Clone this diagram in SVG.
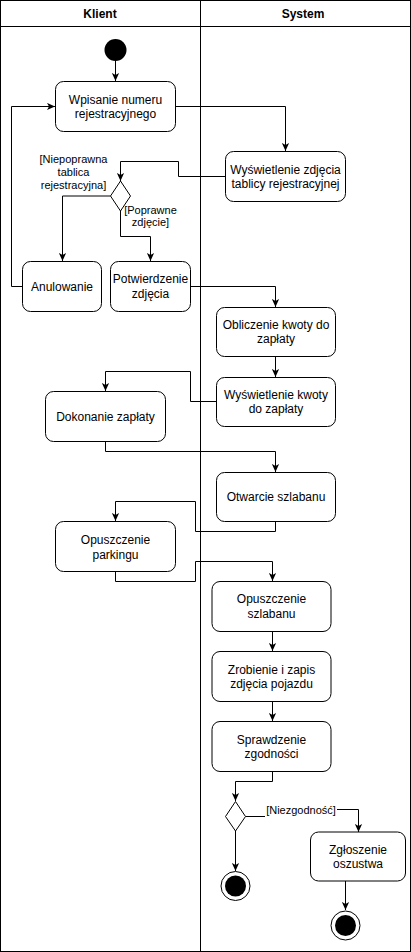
<svg xmlns="http://www.w3.org/2000/svg" width="411" height="952" viewBox="0 0 411 952">
<defs>
<style>
.lane{fill:none;stroke:#000;stroke-width:1}
.hdr{font-family:"Liberation Sans",Arial,sans-serif;font-size:12px;font-weight:bold;fill:#000;text-anchor:middle}
.box{fill:#fff;stroke:#000;stroke-width:1}
.t{font-family:"Liberation Sans",Arial,sans-serif;font-size:12px;fill:#000;text-anchor:middle}
.lbl{font-family:"Liberation Sans",Arial,sans-serif;font-size:11px;fill:#000;text-anchor:middle}
.e{fill:none;stroke:#000;stroke-width:1;marker-end:url(#arr)}
.dia{fill:#fff;stroke:#000;stroke-width:1}
</style>
<marker id="arr" viewBox="0 0 10 10" refX="10" refY="5" markerWidth="8" markerHeight="8" markerUnits="userSpaceOnUse" orient="auto">
<path d="M0,0.5 L10,5 L0,9.5 L2.5,5 z" fill="#000"/>
</marker>
</defs>
<rect width="411" height="952" fill="#fff"/>
<g id="pool">
<rect class="lane" x="0.5" y="0.5" width="410" height="951"/>
<line class="lane" x1="200.5" y1="0" x2="200.5" y2="952"/>
<line class="lane" x1="0" y1="26.5" x2="411" y2="26.5"/>
<text class="hdr" x="100" y="18">Klient</text>
<text class="hdr" x="303" y="18">System</text>
</g>
<g id="connectors">
<path class="e" d="M115.5,61 V81"/>
<path class="e" d="M175,106.5 H285.5 V151"/>
<path class="e" d="M225,176.5 H178.5 V161.5 H120.5 V181"/>
<path class="e" d="M110.5,196 H62.5 V261"/>
<path class="e" d="M120.5,211 V236.5 H150.5 V261"/>
<path class="e" d="M22,286.5 H11.5 V106.5 H55"/>
<path class="e" d="M190,286.5 H275.5 V307"/>
<path class="e" d="M275.5,356 V377"/>
<path class="e" d="M216,401.5 H190.5 V371.5 H105.5 V391"/>
<path class="e" d="M105.5,441 V451.5 H275.5 V472"/>
<path class="e" d="M275.5,521 V531.5 H195.5 V501.5 H115.5 V521"/>
<path class="e" d="M115.5,571 V581.5 H195.5 V561.5 H272.5 V581"/>
<path class="e" d="M272.5,631 V651"/>
<path class="e" d="M272.5,701 V721"/>
<path class="e" d="M272.5,771 V781.5 H235.5 V801"/>
<path class="e" d="M235.5,831 V871"/>
<path class="e" d="M245.5,816.5 H300.5 V809.5 H358.5 V832"/>
<path class="e" d="M345.5,881 V910"/>
<g id="labels">
<rect x="40" y="154" width="68" height="39" fill="#fff"/>
<text class="lbl" x="73.5" y="163">[Niepoprawna</text>
<text class="lbl" x="73.5" y="176">tablica</text>
<text class="lbl" x="73.5" y="189">rejestracyjna]</text>
<rect x="124" y="204" width="53" height="25" fill="#fff"/>
<text class="lbl" x="150.5" y="214">[Poprawne</text>
<text class="lbl" x="150.5" y="226">zdjęcie]</text>
<rect x="265" y="803" width="72" height="15" fill="#fff"/>
<text class="lbl" x="301" y="813.5">[Niezgodność]</text>
</g>
</g>
<g id="start"><circle cx="115.5" cy="50" r="11" fill="#000"/></g>
<g id="n1"><rect class="box" x="55.5" y="81.5" width="120" height="50" rx="8"/>
<text class="t" x="115.5" y="103.5">Wpisanie numeru</text><text class="t" x="115.5" y="118">rejestracyjnego</text></g>
<g id="n2"><rect class="box" x="225.5" y="151.5" width="120" height="50" rx="8"/>
<text class="t" x="285.5" y="173.5">Wyświetlenie zdjęcia</text><text class="t" x="285.5" y="188">tablicy rejestracyjnej</text></g>
<g id="d1"><path class="dia" d="M120.5,181 L130.5,196 L120.5,211 L110.5,196 Z"/></g>
<g id="n3"><rect class="box" x="22.5" y="261.5" width="79" height="50" rx="8"/>
<text class="t" x="62" y="290.5">Anulowanie</text></g>
<g id="n4"><rect class="box" x="110.5" y="261.5" width="80" height="50" rx="8"/>
<text class="t" x="150.5" y="282.5">Potwierdzenie</text><text class="t" x="150.5" y="297.5">zdjęcia</text></g>
<g id="n5"><rect class="box" x="216.5" y="307.5" width="119" height="49" rx="8"/>
<text class="t" x="276" y="328.5">Obliczenie kwoty do</text><text class="t" x="276" y="343">zapłaty</text></g>
<g id="n6"><rect class="box" x="216.5" y="377.5" width="119" height="49" rx="8"/>
<text class="t" x="276" y="398.5">Wyświetlenie kwoty</text><text class="t" x="276" y="413">do zapłaty</text></g>
<g id="n7"><rect class="box" x="45.5" y="391.5" width="120" height="50" rx="8"/>
<text class="t" x="105.5" y="421">Dokonanie zapłaty</text></g>
<g id="n8"><rect class="box" x="216.5" y="472.5" width="119" height="49" rx="8"/>
<text class="t" x="276" y="501">Otwarcie szlabanu</text></g>
<g id="n9"><rect class="box" x="55.5" y="521.5" width="120" height="50" rx="8"/>
<text class="t" x="115.5" y="544">Opuszczenie</text><text class="t" x="115.5" y="558.5">parkingu</text></g>
<g id="n10"><rect class="box" x="212" y="581.5" width="119" height="50" rx="8"/>
<text class="t" x="271.5" y="603">Opuszczenie</text><text class="t" x="271.5" y="618">szlabanu</text></g>
<g id="n11"><rect class="box" x="212" y="651.5" width="119" height="50" rx="8"/>
<text class="t" x="271.5" y="673.5">Zrobienie i zapis</text><text class="t" x="271.5" y="688">zdjęcia pojazdu</text></g>
<g id="n12"><rect class="box" x="212" y="721.5" width="119" height="50" rx="8"/>
<text class="t" x="271.5" y="743.5">Sprawdzenie</text><text class="t" x="271.5" y="758">zgodności</text></g>
<g id="d2"><path class="dia" d="M235.5,801.5 L245.5,816.5 L235.5,831 L225.5,816.5 Z"/></g>
<g id="n13"><rect class="box" x="310.5" y="832" width="95" height="49" rx="8"/>
<text class="t" x="358" y="853.5">Zgłoszenie</text><text class="t" x="358" y="868">oszustwa</text></g>
<g id="end1"><circle cx="235.5" cy="886" r="14.5" fill="#fff" stroke="#000"/><circle cx="235.5" cy="886" r="10.5" fill="#000"/></g>
<g id="end2"><circle cx="345.5" cy="925.5" r="14.5" fill="#fff" stroke="#000"/><circle cx="345.5" cy="925.5" r="10.5" fill="#000"/></g>
</svg>
